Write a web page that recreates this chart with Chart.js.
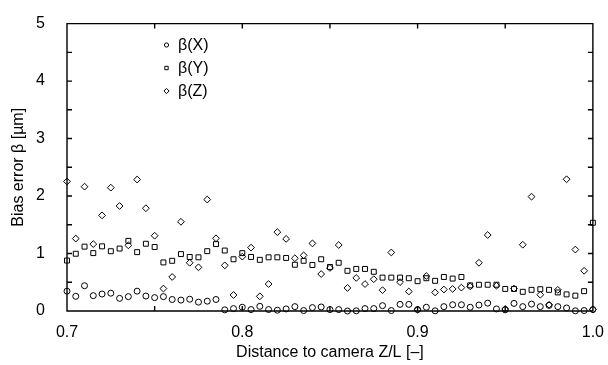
<!DOCTYPE html>
<html>
<head>
<meta charset="utf-8">
<script src="https://cdn.jsdelivr.net/npm/chart.js@4.4.0/dist/chart.umd.min.js"></script>
<style>
  html, body { margin: 0; padding: 0; background: #fff; }
</style>
</head>
<body>
<canvas id="bias-canvas" width="608" height="365"></canvas>
<script>
// distance to camera, Z/L
const distance = [
  0.700, 0.705, 0.710, 0.715, 0.720, 0.725, 0.730, 0.735, 0.740, 0.745,
  0.750, 0.755, 0.760, 0.765, 0.770, 0.775, 0.780, 0.785, 0.790, 0.795,
  0.800, 0.805, 0.810, 0.815, 0.820, 0.825, 0.830, 0.835, 0.840, 0.845,
  0.850, 0.855, 0.860, 0.865, 0.870, 0.875, 0.880, 0.885, 0.890, 0.895,
  0.900, 0.905, 0.910, 0.915, 0.920, 0.925, 0.930, 0.935, 0.940, 0.945,
  0.950, 0.955, 0.960, 0.965, 0.970, 0.975, 0.980, 0.985, 0.990, 0.995,
  1.000,
];

// bias error in µm
const biasX = [
  0.345, 0.255, 0.44, 0.267, 0.295, 0.31, 0.22, 0.25, 0.345, 0.26,
  0.233, 0.25, 0.2, 0.19, 0.205, 0.154, 0.171, 0.2, 0.02, 0.042,
  0.065, 0.025, 0.081, 0.025, 0.014, 0.036, 0.076, 0.008, 0.059, 0.07,
  0.025, 0.025, 0.0, 0.003, 0.042, 0.042, 0.093, 0.008, 0.115, 0.115,
  0.025, 0.065, 0.003, 0.076, 0.109, 0.109, 0.065, 0.104, 0.137, 0.036,
  0.02, 0.132, 0.076, 0.12, 0.076, 0.098, 0.076, 0.053, 0.003, 0.008,
  0.025,
];
const biasY = [
  0.878, 0.996, 1.12, 1.007, 1.125, 1.04, 1.086, 1.22, 1.024, 1.17,
  1.114, 0.845, 0.873, 0.99, 0.94, 0.934, 1.041, 1.164, 1.052, 0.9,
  1.007, 0.94, 0.89, 0.934, 0.934, 0.923, 0.805, 0.873, 0.8, 0.9,
  0.766, 0.839, 0.699, 0.732, 0.732, 0.682, 0.581, 0.581, 0.581, 0.57,
  0.519, 0.57, 0.525, 0.592, 0.564, 0.592, 0.446, 0.457, 0.457, 0.457,
  0.384, 0.384, 0.334, 0.368, 0.379, 0.368, 0.323, 0.289, 0.267, 0.345,
  1.535,
];
const biasZ = [
  2.253, 1.26, 2.163, 1.164, 1.664, 2.146, 1.827, 1.142, 2.287, 1.788,
  1.31, 0.39, 0.592, 1.552, 0.839, 0.76, 1.939, 1.265, 0.794, 0.278,
  0.946, 1.103, 0.255, 0.469, 1.372, 1.254, 0.918, 0.968, 1.176, 0.643,
  0.749, 1.148, 0.401, 0.575, 0.469, 0.553, 0.362, 1.018, 0.502, 0.339,
  0.025, 0.609, 0.323, 0.373, 0.384, 0.407, 0.429, 0.839, 1.322, 0.44,
  0.036, 0.39, 1.153, 1.989, 0.283, 0.109, 0.368, 2.292, 1.069, 0.699,
  0.025,
];

const seriesLabels = ['β(X)', 'β(Y)', 'β(Z)'];
const xTickValues = [0.7, 0.8, 0.9, 1.0];
const xTickMarks = [0.7, 0.75, 0.8, 0.85, 0.9, 0.95, 1.0];
const yTickValues = [0, 1, 2, 3, 4, 5];
const yTickMarks = [0, 0.5, 1, 1.5, 2, 2.5, 3, 3.5, 4, 4.5, 5];

const FONT = "'Liberation Sans', Arial, Helvetica, sans-serif";
Chart.defaults.font.family = FONT;
Chart.defaults.color = '#000';

const toPoints = (ys) => distance.map((x, i) => ({ x, y: ys[i] }));

const makeSet = (label, ys, pointStyle, pointRadius) => ({
  label,
  data: toPoints(ys),
  pointStyle,
  pointRadius,
  pointHoverRadius: pointRadius,
  borderColor: '#000',
  backgroundColor: 'rgba(0,0,0,0)',
  borderWidth: 1,
  showLine: false,
  clip: false,
});

// box round the plot with inward ticks on all four sides, then the legend
const decorations = {
  id: 'decorations',
  afterDatasetsDraw(chart) {
    const ctx = chart.ctx;
    const { left, right, top, bottom } = chart.chartArea;
    const xs = chart.scales.x;
    const ys = chart.scales.y;
    const len = 5;

    ctx.save();
    ctx.strokeStyle = '#000';
    ctx.lineWidth = 1.4;
    ctx.beginPath();
    ctx.moveTo(left, top);
    ctx.lineTo(right, top);
    ctx.lineTo(right, bottom);
    ctx.lineTo(left, bottom);
    ctx.closePath();
    xTickMarks.forEach((v) => {
      const px = xs.getPixelForValue(v);
      ctx.moveTo(px, bottom);
      ctx.lineTo(px, bottom - len);
      ctx.moveTo(px, top);
      ctx.lineTo(px, top + len);
    });
    yTickMarks.forEach((v) => {
      const py = ys.getPixelForValue(v);
      ctx.moveTo(left, py);
      ctx.lineTo(left + len, py);
      ctx.moveTo(right, py);
      ctx.lineTo(right - len, py);
    });
    ctx.stroke();
    ctx.restore();

    ctx.save();
    ctx.font = '16px ' + FONT;
    ctx.textBaseline = 'middle';
    ctx.textAlign = 'left';
    const rows = [45, 68, 91];
    const sizes = [2.1, 2.4, 2.6];
    chart.data.datasets.forEach((ds, i) => {
      ctx.strokeStyle = '#000';
      ctx.fillStyle = 'rgba(0,0,0,0)';
      ctx.lineWidth = 1;
      Chart.helpers.drawPoint(ctx, { pointStyle: ds.pointStyle, radius: sizes[i], borderWidth: 1 }, 166.5, rows[i]);
      ctx.fillStyle = '#000';
      ctx.fillText(ds.label, 178, rows[i] + 1);
    });
    ctx.restore();
  },
};

const chart = new Chart(document.getElementById('bias-canvas').getContext('2d'), {
  type: 'scatter',
  data: {
    datasets: [
      makeSet(seriesLabels[0], biasX, 'circle', 3),
      makeSet(seriesLabels[1], biasY, 'rect', 3.5),
      makeSet(seriesLabels[2], biasZ, 'rectRot', 3.4),
    ],
  },
  options: {
    responsive: false,
    animation: false,
    layout: { padding: { top: 14, right: 11, left: 0, bottom: 0 } },
    plugins: {
      legend: { display: false },
      tooltip: { enabled: false },
    },
    scales: {
      x: {
        type: 'linear',
        min: 0.7,
        max: 1.0,
        grid: { display: false },
        border: { display: false },
        afterBuildTicks: (scale) => { scale.ticks = xTickValues.map((value) => ({ value })); },
        afterFit: (scale) => { scale.height = 54; },
        ticks: {
          padding: 4,
          color: '#000',
          font: { size: 16 },
          maxRotation: 0,
          autoSkip: false,
          callback: (v) => Number(v).toFixed(1),
        },
        title: {
          display: true,
          text: 'Distance to camera Z/L [–]',
          color: '#000',
          font: { size: 16 },
          padding: { top: 0, bottom: 3 },
        },
      },
      y: {
        type: 'linear',
        min: 0,
        max: 5,
        grid: { display: false },
        border: { display: false },
        afterBuildTicks: (scale) => { scale.ticks = yTickValues.map((value) => ({ value })); },
        afterFit: (scale) => { scale.width = 67; },
        ticks: {
          padding: 14,
          color: '#000',
          font: { size: 16 },
          autoSkip: false,
          callback: (v) => String(v),
        },
        title: {
          display: true,
          text: 'Bias error β [µm]',
          color: '#000',
          font: { size: 16 },
          padding: { top: 9, bottom: 0 },
        },
      },
    },
  },
  plugins: [decorations],
});
</script>
</body>
</html>
